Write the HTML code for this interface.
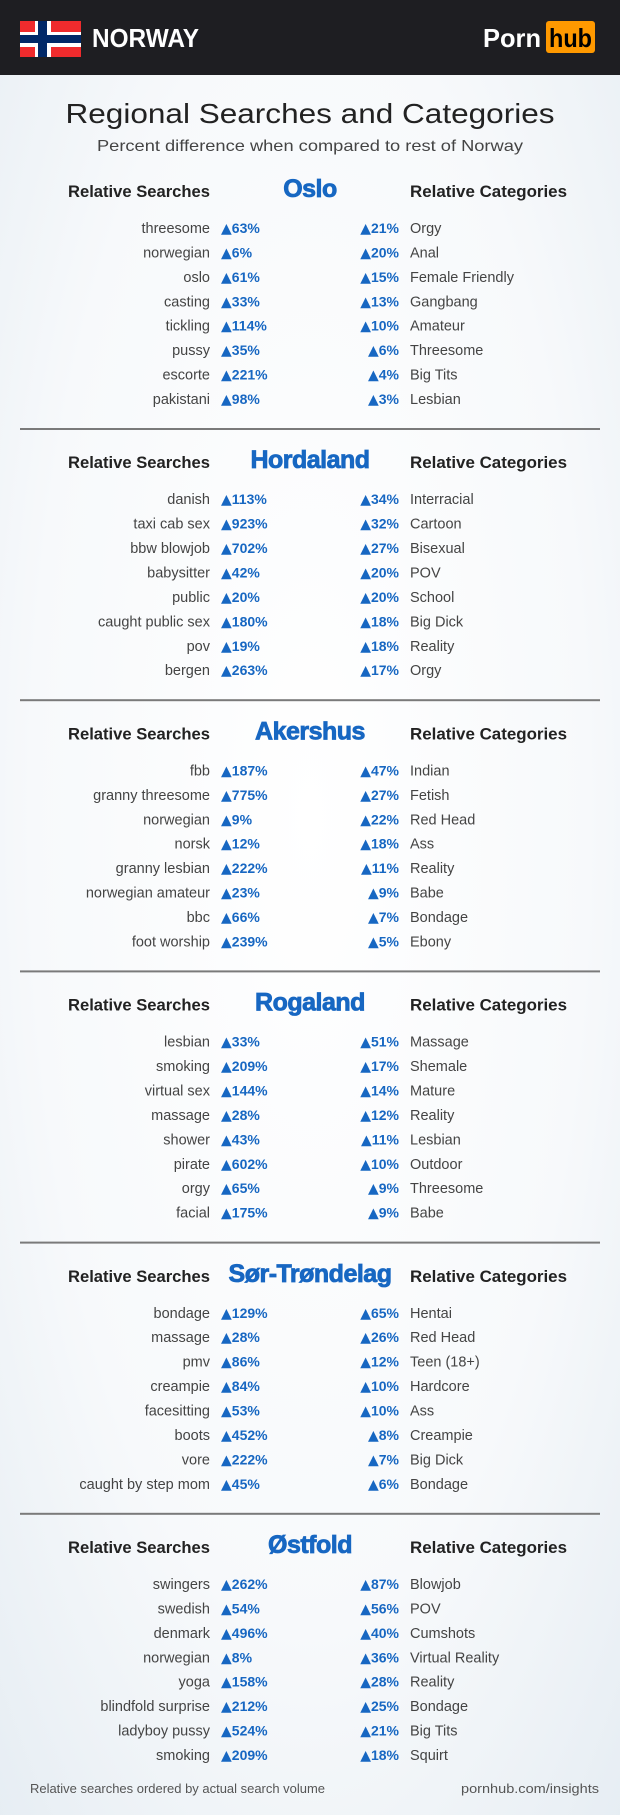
<!DOCTYPE html>
<html><head><meta charset="utf-8"><style>
html,body{margin:0;padding:0}
body{width:620px;height:1815px;overflow:hidden}
svg{display:block}
</style></head><body>
<svg width="620" height="1815" viewBox="0 0 620 1815" xmlns="http://www.w3.org/2000/svg" font-family="Liberation Sans, sans-serif">
<defs>
<radialGradient id="bg" cx="50%" cy="45%" r="75%">
<stop offset="0" stop-color="#ffffff"/><stop offset="0.6" stop-color="#f7f9fb"/><stop offset="1" stop-color="#e6edf3"/>
</radialGradient>
</defs>
<rect width="620" height="1815" fill="url(#bg)"/>
<rect width="620" height="75" fill="#1e1e22"/>
<rect x="20" y="21" width="61" height="36" fill="#ef2b2d"/>
<rect x="35" y="21" width="16" height="36" fill="#fff"/>
<rect x="20" y="32" width="61" height="15" fill="#fff"/>
<rect x="38" y="21" width="9" height="36" fill="#002868"/>
<rect x="20" y="35" width="61" height="8" fill="#002868"/>
<text x="92" y="47" fill="#fff" font-size="26" font-weight="bold" textLength="107" lengthAdjust="spacingAndGlyphs">NORWAY</text>
<text x="483" y="47" fill="#fff" font-size="26" font-weight="bold" textLength="58" lengthAdjust="spacingAndGlyphs">Porn</text>
<rect x="546" y="21" width="49" height="32" rx="3" fill="#ff9900"/>
<text x="549" y="47" fill="#000" font-size="26" font-weight="bold" textLength="43" lengthAdjust="spacingAndGlyphs">hub</text>
<text x="310" y="123" text-anchor="middle" fill="#222" font-size="28" textLength="489" lengthAdjust="spacingAndGlyphs">Regional Searches and Categories</text>
<text x="310" y="151" text-anchor="middle" fill="#444" font-size="16" textLength="426" lengthAdjust="spacingAndGlyphs">Percent difference when compared to rest of Norway</text>
<g id="content"></g>
<text x="30" y="1793" fill="#555" font-size="13" textLength="295" lengthAdjust="spacingAndGlyphs">Relative searches ordered by actual search volume</text>
<text x="599" y="1793" text-anchor="end" fill="#555" font-size="13" textLength="138" lengthAdjust="spacingAndGlyphs">pornhub.com/insights</text>
</svg>
<script>
var D=[
["Oslo",[["threesome","63%","21%","Orgy"],["norwegian","6%","20%","Anal"],["oslo","61%","15%","Female Friendly"],["casting","33%","13%","Gangbang"],["tickling","114%","10%","Amateur"],["pussy","35%","6%","Threesome"],["escorte","221%","4%","Big Tits"],["pakistani","98%","3%","Lesbian"]]],
["Hordaland",[["danish","113%","34%","Interracial"],["taxi cab sex","923%","32%","Cartoon"],["bbw blowjob","702%","27%","Bisexual"],["babysitter","42%","20%","POV"],["public","20%","20%","School"],["caught public sex","180%","18%","Big Dick"],["pov","19%","18%","Reality"],["bergen","263%","17%","Orgy"]]],
["Akershus",[["fbb","187%","47%","Indian"],["granny threesome","775%","27%","Fetish"],["norwegian","9%","22%","Red Head"],["norsk","12%","18%","Ass"],["granny lesbian","222%","11%","Reality"],["norwegian amateur","23%","9%","Babe"],["bbc","66%","7%","Bondage"],["foot worship","239%","5%","Ebony"]]],
["Rogaland",[["lesbian","33%","51%","Massage"],["smoking","209%","17%","Shemale"],["virtual sex","144%","14%","Mature"],["massage","28%","12%","Reality"],["shower","43%","11%","Lesbian"],["pirate","602%","10%","Outdoor"],["orgy","65%","9%","Threesome"],["facial","175%","9%","Babe"]]],
["Sør-Trøndelag",[["bondage","129%","65%","Hentai"],["massage","28%","26%","Red Head"],["pmv","86%","12%","Teen (18+)"],["creampie","84%","10%","Hardcore"],["facesitting","53%","10%","Ass"],["boots","452%","8%","Creampie"],["vore","222%","7%","Big Dick"],["caught by step mom","45%","6%","Bondage"]]],
["Østfold",[["swingers","262%","87%","Blowjob"],["swedish","54%","56%","POV"],["denmark","496%","40%","Cumshots"],["norwegian","8%","36%","Virtual Reality"],["yoga","158%","28%","Reality"],["blindfold surprise","212%","25%","Bondage"],["ladyboy pussy","524%","21%","Big Tits"],["smoking","209%","18%","Squirt"]]]
];
var s='',B='#1767c2',T='<tspan font-family="DejaVu Sans, sans-serif" font-size="14">▲</tspan>';
D.forEach(function(sec,k){
 var o=271.2*k;
 s+='<text x="68" y="'+(197+o)+'" fill="#222" font-size="17" font-weight="bold" textLength="142" lengthAdjust="spacingAndGlyphs">Relative Searches</text>';
 s+='<text x="410" y="'+(197+o)+'" fill="#222" font-size="17" font-weight="bold" textLength="157" lengthAdjust="spacingAndGlyphs">Relative Categories</text>';
 s+='<text x="310" y="'+(197+o)+'" text-anchor="middle" fill="'+B+'" font-size="25" font-weight="bold" stroke="'+B+'" stroke-width="0.8" letter-spacing="-0.5">'+sec[0]+'</text>';
 sec[1].forEach(function(r,i){
  var y=233+o+24.43*i;
  s+='<text x="210" y="'+y+'" text-anchor="end" fill="#444" font-size="14.5">'+r[0]+'</text>';
  s+='<text x="221" y="'+y+'" fill="'+B+'" font-size="14" font-weight="bold">'+T+r[1]+'</text>';
  s+='<text x="399" y="'+y+'" text-anchor="end" fill="'+B+'" font-size="14" font-weight="bold">'+T+r[2]+'</text>';
  s+='<text x="410" y="'+y+'" fill="#444" font-size="14.5">'+r[3]+'</text>';
 });
 if(k<5) s+='<rect x="20" y="'+(428+o)+'" width="580" height="2" fill="#7a7a7a"/>';
});
document.getElementById('content').innerHTML=s;
</script>
</body></html>
